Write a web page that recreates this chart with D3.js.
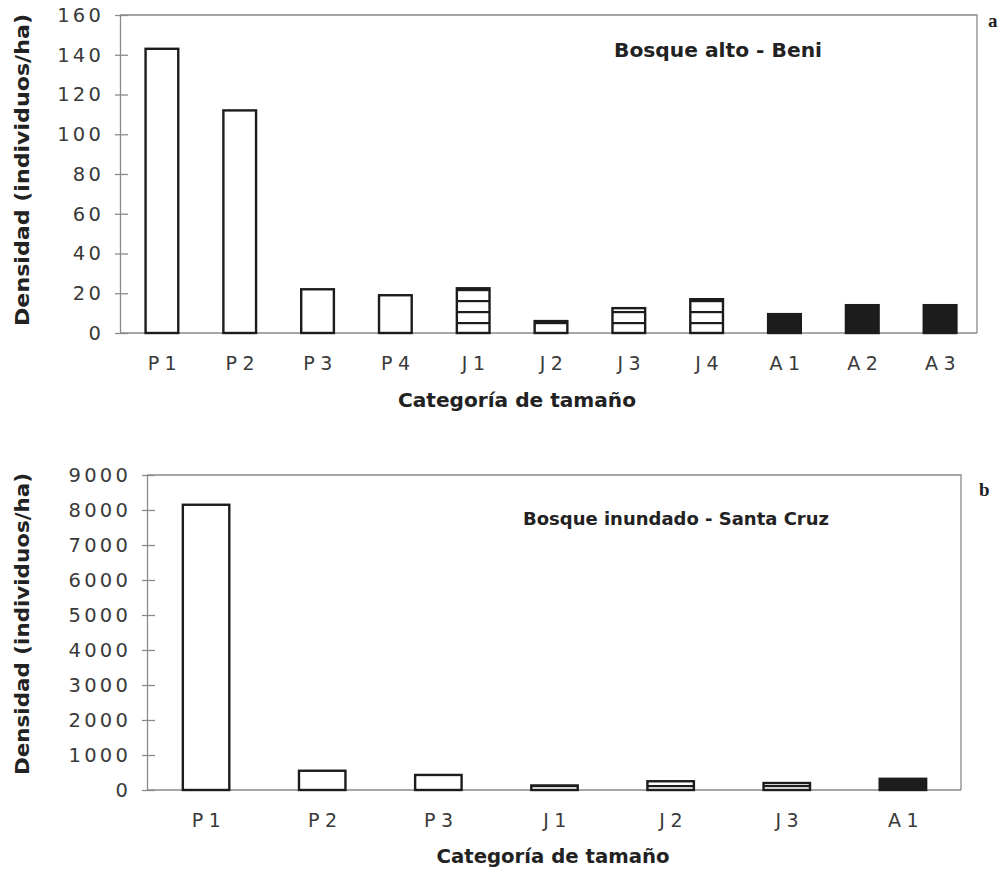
<!DOCTYPE html>
<html>
<head>
<meta charset="utf-8">
<script src="https://cdn.jsdelivr.net/npm/d3@7"></script>
<style>
  html, body { margin: 0; padding: 0; background: #fff; }
  svg { display: block; }
</style>
</head>
<body>
<svg id="chart" width="1007" height="869"></svg>
<script>
// ---- Data (panel a) ----
const categoriesA = ["P1", "P2", "P3", "P4", "J1", "J2", "J3", "J4", "A1", "A2", "A3"];
const valuesA = [143, 112, 22, 19, 22.5, 6, 12.5, 17, 9.5, 14, 14];
const ticksA = [0, 20, 40, 60, 80, 100, 120, 140, 160];
const titleA = "Bosque alto - Beni";

// ---- Data (panel b) ----
const categoriesB = ["P1", "P2", "P3", "J1", "J2", "J3", "A1"];
const valuesB = [8150, 550, 430, 130, 250, 200, 320];
const ticksB = [0, 1000, 2000, 3000, 4000, 5000, 6000, 7000, 8000, 9000];
const titleB = "Bosque inundado - Santa Cruz";

const yLabel = "Densidad (individuos/ha)";
const xLabel = "Categoría de tamaño";

const svg = d3.select("#chart");
const defs = svg.append("defs");
const FONT = "'DejaVu Sans', Verdana, sans-serif";

function fillFor(cat, id) {
  const k = cat[0];
  if (k === "P") return "#fff";
  if (k === "J") return `url(#stripes-${id})`;
  return "#1c1c1c";
}

function drawPanel(o) {
  const g = svg.append("g");
  const y = d3.scaleLinear().domain([o.ticks[0], o.ticks[o.ticks.length - 1]]).range([o.bottom, o.top]);
  const x = d3.scaleBand().domain(o.categories).range([o.bandLeft, o.bandRight])
    .paddingInner(o.pad).paddingOuter(o.pad / 2);

  // stripe pattern aligned to baseline
  const pat = defs.append("pattern")
    .attr("id", `stripes-${o.id}`)
    .attr("patternUnits", "userSpaceOnUse")
    .attr("x", 0).attr("y", o.bottom - o.stripeOffset)
    .attr("width", 20).attr("height", 11);
  pat.append("rect").attr("width", 20).attr("height", 11).attr("fill", "#fff");
  pat.append("rect").attr("x", 0).attr("y", 0).attr("width", 20).attr("height", 2.2).attr("fill", "#1c1c1c");

  // frame (top and right)
  g.append("path")
    .attr("d", `M${o.left},${o.top}H${o.right}V${o.bottom}`)
    .attr("fill", "none").attr("stroke", "#8a8a8a").attr("stroke-width", 1.3);

  // y axis
  const yAxis = d3.axisLeft(y).tickValues(o.ticks).tickFormat(d3.format("d"))
    .tickSizeInner(5).tickSizeOuter(0).tickPadding(12);
  const ya = g.append("g").attr("transform", `translate(${o.left},0)`).call(yAxis);
  ya.select(".domain").attr("stroke", "#8a8a8a").attr("stroke-width", 1.3);
  ya.selectAll(".tick line").attr("stroke", "#8a8a8a").attr("stroke-width", 1.3).attr("x2", 8).attr("x1", -5);
  ya.selectAll(".tick text")
    .attr("font-family", FONT).attr("font-size", 19.5).attr("fill", "#3a3a3a")
    .attr("letter-spacing", 3.2).attr("x", -16);

  // x axis
  const xAxis = d3.axisBottom(x).tickSize(0).tickPadding(24);
  const xa = g.append("g").attr("transform", `translate(0,${o.bottom})`).call(xAxis);
  xa.select(".domain").attr("d", `M${o.left},0H${o.right}`).attr("stroke", "#8a8a8a").attr("stroke-width", 1.3);
  xa.selectAll(".tick text")
    .attr("font-family", FONT).attr("font-size", 19).attr("fill", "#3a3a3a")
    .attr("letter-spacing", 5.5)
    .attr("dx", 3);

  // bars
  g.append("g").selectAll("rect")
    .data(o.categories.map((c, i) => ({ c, v: o.values[i] })))
    .join("rect")
    .attr("x", d => x(d.c))
    .attr("width", x.bandwidth())
    .attr("y", d => y(d.v))
    .attr("height", d => y(0) - y(d.v))
    .attr("fill", d => fillFor(d.c, o.id))
    .attr("stroke", "#1c1c1c")
    .attr("stroke-width", 2.4);

  // y label
  g.append("text")
    .attr("transform", `translate(${o.yLabelX},${o.yLabelY}) rotate(-90)`)
    .attr("text-anchor", "middle")
    .attr("font-family", FONT).attr("font-weight", "bold").attr("font-size", 19)
    .attr("textLength", o.yLabelLen).attr("lengthAdjust", "spacingAndGlyphs")
    .attr("fill", "#222")
    .text(yLabel);

  // x label
  g.append("text")
    .attr("x", o.xLabelX).attr("y", o.xLabelY)
    .attr("text-anchor", "middle")
    .attr("font-family", FONT).attr("font-weight", "bold").attr("font-size", 19.5)
    .attr("textLength", o.xLabelLen).attr("lengthAdjust", "spacingAndGlyphs")
    .attr("fill", "#222")
    .text(xLabel);

  // inner title
  g.append("text")
    .attr("x", o.titleX).attr("y", o.titleY)
    .attr("text-anchor", "middle")
    .attr("font-family", FONT).attr("font-weight", "bold").attr("font-size", o.titleSize)
    .attr("textLength", o.titleLen).attr("lengthAdjust", "spacingAndGlyphs")
    .attr("fill", "#222")
    .text(o.title);

  // panel letter
  g.append("text")
    .attr("x", o.letterX).attr("y", o.letterY)
    .attr("font-family", "'Liberation Serif', 'DejaVu Serif', serif").attr("font-weight", "bold").attr("font-size", 19)
    .attr("fill", "#222")
    .text(o.letter);
}

drawPanel({
  id: "a", categories: categoriesA, values: valuesA, ticks: ticksA, title: titleA,
  left: 120, right: 977, top: 15, bottom: 333,
  bandLeft: 123, bandRight: 979, pad: 0.58, stripeOffset: 0,
  yLabelX: 29, yLabelY: 170, yLabelLen: 312,
  xLabelX: 517, xLabelY: 407, xLabelLen: 238,
  titleX: 718, titleY: 57, titleSize: 19, titleLen: 208,
  letter: "a", letterX: 988, letterY: 27
});

drawPanel({
  id: "b", categories: categoriesB, values: valuesB, ticks: ticksB, title: titleB,
  left: 147, right: 961, top: 475, bottom: 790,
  bandLeft: 148, bandRight: 961, pad: 0.6, stripeOffset: 5,
  yLabelX: 29, yLabelY: 624, yLabelLen: 302,
  xLabelX: 553, xLabelY: 863, xLabelLen: 233,
  titleX: 676, titleY: 525, titleSize: 18, titleLen: 306,
  letter: "b", letterX: 979, letterY: 496
});
</script>
</body>
</html>
